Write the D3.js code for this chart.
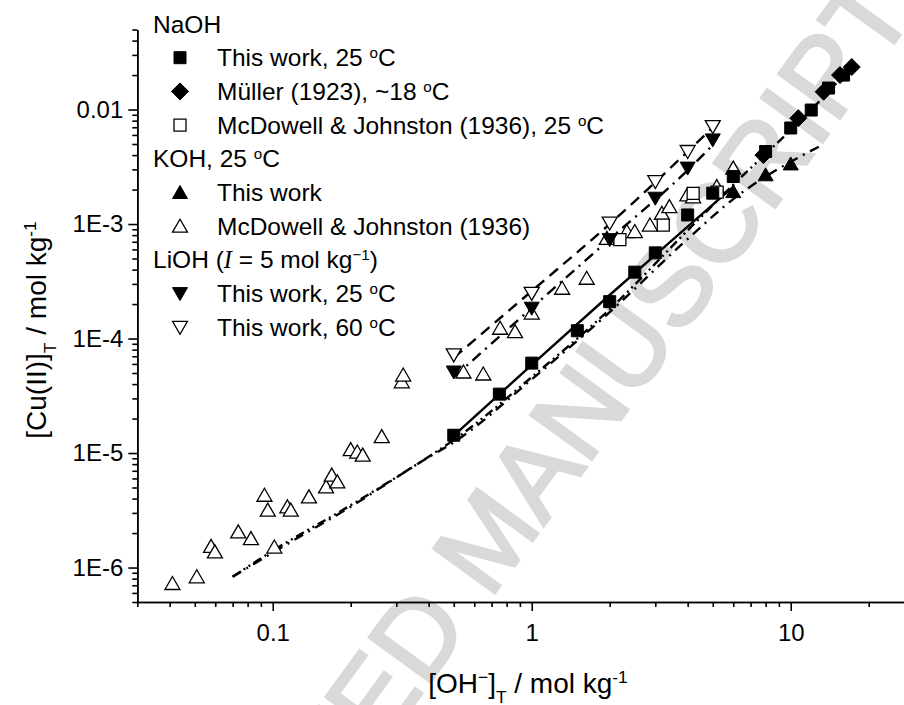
<!DOCTYPE html>
<html>
<head>
<meta charset="utf-8">
<script src="https://cdn.jsdelivr.net/npm/d3@7"></script>
<style>
  body { margin: 0; background: #fff; }
  svg { font-family: "Liberation Sans", Arial, sans-serif; }
</style>
</head>
<body>
<div id="chart"></div>
<script>

  // ---------------------------//
  //            DATA            //
  // ---------------------------//

  // NaOH, this work, 25 C (filled squares)
  var naohWorkX = [0.5, 0.75, 1, 1.5, 2, 2.5, 3, 4, 5, 6, 8, 10, 12, 14, 16];
  var naohWorkY = [1.43e-5, 3.27e-5, 6.1e-5, 1.17e-4, 2.1e-4, 3.8e-4, 5.6e-4, 1.2e-3, 1.86e-3, 2.6e-3, 4.3e-3, 6.9e-3, 9.9e-3, 1.54e-2, 2.0e-2];

  // NaOH, Muller (1923) (filled diamonds)
  var mullerX = [7.84, 10.7, 13.4, 15.5, 17.2];
  var mullerY = [4.0e-3, 8.4e-3, 1.43e-2, 2.0e-2, 2.35e-2];

  // NaOH, McDowell & Johnston (1936) (open squares)
  var naohMcdX = [2.19, 3.22, 4.2, 5.2];
  var naohMcdY = [7.3e-4, 9.8e-4, 1.85e-3, 1.9e-3];

  // KOH, this work (filled triangles)
  var kohWorkX = [6, 8, 10];
  var kohWorkY = [1.92e-3, 2.69e-3, 3.35e-3];

  // KOH, McDowell & Johnston (1936) (open triangles)
  var kohMcdX = [0.041, 0.0509, 0.0578, 0.0598, 0.0736, 0.0824, 0.0929, 0.0957, 0.1014, 0.1139, 0.1174, 0.138, 0.1607, 0.169, 0.1776, 0.2, 0.212, 0.2226, 0.2636, 0.315, 0.319, 0.545, 0.65, 0.755, 0.862, 1.0, 1.31, 1.63, 1.95, 2.33, 2.5, 2.86, 3.18, 3.4, 3.99, 4.2, 5.18, 6.0];
  var kohMcdY = [7.25e-7, 8.3e-7, 1.53e-6, 1.37e-6, 2.05e-6, 1.79e-6, 4.28e-6, 3.17e-6, 1.51e-6, 3.39e-6, 3.17e-6, 4.14e-6, 5.07e-6, 6.41e-6, 5.6e-6, 1.07e-5, 1.02e-5, 9.6e-6, 1.39e-5, 4.19e-5, 4.8e-5, 5.1e-5, 4.9e-5, 1.23e-4, 1.15e-4, 1.67e-4, 2.75e-4, 3.36e-4, 7.5e-4, 8.6e-4, 8.6e-4, 9.8e-4, 1.24e-3, 1.42e-3, 1.8e-3, 1.73e-3, 2.12e-3, 3.08e-3];

  // LiOH, this work, 25 C (filled down triangles)
  var li25X = [0.5, 1, 2, 3, 4, 5];
  var li25Y = [5.1e-5, 1.84e-4, 7.3e-4, 1.68e-3, 3.08e-3, 5.43e-3];

  // LiOH, this work, 60 C (open down triangles)
  var li60X = [0.5, 1, 2, 3, 4, 5];
  var li60Y = [7.2e-5, 2.48e-4, 1.02e-3, 2.35e-3, 4.3e-3, 7.1e-3];

  // model curves
  var fitNaohX = [0.5, 1, 2, 4, 5.9];
  var fitNaohY = [1.42e-5, 5.9e-5, 2.4e-4, 9.5e-4, 2.05e-3];

  var fitLi60X = [0.5, 1, 2, 5.2];
  var fitLi60Y = [6.8e-5, 2.6e-4, 1.0e-3, 7.6e-3];

  var fitLi25X = [0.5, 1, 2, 4, 5.0];
  var fitLi25Y = [4.6e-5, 1.85e-4, 7.4e-4, 2.95e-3, 4.9e-3];

  var modelNaohX = [0.07, 0.1, 0.2, 0.4, 0.5, 1, 2, 4, 6, 8, 10, 13, 17.5];
  var modelNaohY = [8.3e-7, 1.4e-6, 3.5e-6, 9.3e-6, 1.3e-5, 4.6e-5, 1.8e-4, 8.8e-4, 2.2e-3, 4.1e-3, 6.6e-3, 1.2e-2, 2.5e-2];

  var modelKohX = [0.07, 0.1, 0.2, 0.4, 0.5, 1, 2, 4, 6, 8, 10, 13];
  var modelKohY = [8.3e-7, 1.35e-6, 3.4e-6, 9.2e-6, 1.24e-5, 4.4e-5, 1.7e-4, 7.4e-4, 1.65e-3, 2.6e-3, 3.5e-3, 4.8e-3];

  // ticks
  var xMajor = [0.1, 1, 10];
  var xMajorLabels = ["0.1", "1", "10"];
  var xMinor = [0.03, 0.04, 0.05, 0.06, 0.07, 0.08, 0.09, 0.2, 0.3, 0.4, 0.5, 0.6, 0.7, 0.8, 0.9,
                2, 3, 4, 5, 6, 7, 8, 9, 20];
  var yMajor = [1e-6, 1e-5, 1e-4, 1e-3, 0.01];
  var yMajorLabels = ["1E-6", "1E-5", "1E-4", "1E-3", "0.01"];
  var yMinor = [5e-7, 6e-7, 7e-7, 8e-7, 9e-7,
                2e-6, 3e-6, 4e-6, 5e-6, 6e-6, 7e-6, 8e-6, 9e-6,
                2e-5, 3e-5, 4e-5, 5e-5, 6e-5, 7e-5, 8e-5, 9e-5,
                2e-4, 3e-4, 4e-4, 5e-4, 6e-4, 7e-4, 8e-4, 9e-4,
                2e-3, 3e-3, 4e-3, 5e-3, 6e-3, 7e-3, 8e-3, 9e-3,
                0.02, 0.03, 0.04, 0.05];

  function zip(xs, ys) {
    return xs.map(function(v, i) { return [v, ys[i]]; });
  }

  // ---------------------------//
  //         DIMENSIONS         //
  // ---------------------------//

  var width = 904;
  var height = 705;

  var svg = d3.select("#chart")
    .append("svg")
    .attr("width", width)
    .attr("height", height);

  var x = d3.scaleLog()
    .domain([0.03, 30])
    .range([137.3, 914.3]);

  var y = d3.scaleLog()
    .domain([5e-7, 0.05])
    .range([602, 29.5]);

  // ---------------------------//
  //          WATERMARK         //
  // ---------------------------//

  svg.append("text")
    .attr("transform", "translate(917,12) rotate(-54)")
    .attr("text-anchor", "end")
    .style("font-size", "110px")
    .attr("fill", "#d9d9d9")
    .attr("stroke", "#d9d9d9")
    .attr("stroke-width", 3)
    .text("ACCEPTED MANUSCRIPT");

  // ---------------------------//
  //            AXES            //
  // ---------------------------//

  svg.append("g")
    .attr("transform", "translate(0,602)")
    .call(d3.axisBottom(x).tickValues(xMinor).tickSize(5).tickSizeOuter(0).tickFormat(""));

  svg.append("g")
    .attr("transform", "translate(0,602)")
    .call(d3.axisBottom(x).tickValues(xMajor).tickSize(9).tickSizeOuter(0).tickPadding(13)
      .tickFormat(function(d, i) { return xMajorLabels[i]; }));

  svg.append("g")
    .attr("transform", "translate(137.3,0)")
    .call(d3.axisLeft(y).tickValues(yMinor).tickSize(5).tickSizeOuter(0).tickFormat(""));

  svg.append("g")
    .attr("transform", "translate(137.3,0)")
    .call(d3.axisLeft(y).tickValues(yMajor).tickSize(9).tickSizeOuter(0).tickPadding(5)
      .tickFormat(function(d, i) { return yMajorLabels[i]; }));

  svg.selectAll(".domain, .tick line")
    .attr("stroke", "#000")
    .attr("stroke-width", 1.6);

  svg.selectAll(".tick text")
    .attr("fill", "#000")
    .style("font-family", "'Liberation Sans', Arial, sans-serif")
    .style("font-size", "24px");

  // ---------------------------//
  //            LINES           //
  // ---------------------------//

  var line = d3.line()
    .x(function(d) { return x(d[0]); })
    .y(function(d) { return y(d[1]); })
    .curve(d3.curveMonotoneX);

  var curves = [
    { pts: zip(modelNaohX, modelNaohY), dash: "9,4,2,4,2,4" },
    { pts: zip(modelKohX, modelKohY), dash: "10,6,2,6" },
    { pts: zip(fitNaohX, fitNaohY), dash: null },
    { pts: zip(fitLi60X, fitLi60Y), dash: "11,7" },
    { pts: zip(fitLi25X, fitLi25Y), dash: "11,6,2,6" }
  ];

  curves.forEach(function(c) {
    svg.append("path")
      .datum(c.pts)
      .attr("fill", "none")
      .attr("stroke", "#000")
      .attr("stroke-width", 2.4)
      .attr("stroke-dasharray", c.dash)
      .attr("d", line);
  });

  // ---------------------------//
  //           MARKERS          //
  // ---------------------------//

  var shapes = {
    square: function(p) { p.moveTo(-6, -6); p.lineTo(6, -6); p.lineTo(6, 6); p.lineTo(-6, 6); p.closePath(); },
    diamond: function(p) { p.moveTo(0, -8.5); p.lineTo(8.5, 0); p.lineTo(0, 8.5); p.lineTo(-8.5, 0); p.closePath(); },
    up: function(p) { p.moveTo(0, -7); p.lineTo(7.5, 6); p.lineTo(-7.5, 6); p.closePath(); },
    down: function(p) { p.moveTo(0, 7); p.lineTo(7.5, -6); p.lineTo(-7.5, -6); p.closePath(); }
  };

  function symbolPath(name) {
    var p = d3.path();
    shapes[name](p);
    return p.toString();
  }

  var series = [
    { xs: kohMcdX, ys: kohMcdY, shape: "up", filled: false },
    { xs: naohMcdX, ys: naohMcdY, shape: "square", filled: false },
    { xs: li60X, ys: li60Y, shape: "down", filled: false },
    { xs: li25X, ys: li25Y, shape: "down", filled: true },
    { xs: kohWorkX, ys: kohWorkY, shape: "up", filled: true },
    { xs: mullerX, ys: mullerY, shape: "diamond", filled: true },
    { xs: naohWorkX, ys: naohWorkY, shape: "square", filled: true }
  ];

  series.forEach(function(s) {
    svg.append("g")
      .selectAll("path")
      .data(zip(s.xs, s.ys))
      .enter()
      .append("path")
      .attr("transform", function(d) { return "translate(" + x(d[0]) + "," + y(d[1]) + ")"; })
      .attr("d", symbolPath(s.shape))
      .attr("fill", s.filled ? "#000" : "#fff")
      .attr("stroke", "#000")
      .attr("stroke-width", s.filled ? 1 : 1.3);
  });

  // ---------------------------//
  //           LEGEND           //
  // ---------------------------//

  function richText(sel, parts) {
    parts.forEach(function(p) {
      var t = sel.append("tspan").text(p.t);
      if (p.sup) t.attr("baseline-shift", "super").style("font-size", "0.62em");
      if (p.sub) t.attr("baseline-shift", "sub").style("font-size", "0.62em");
      if (p.it) t.style("font-family", "'Liberation Serif', 'Times New Roman', serif").style("font-style", "italic");
    });
    return sel;
  }

  var deg = [{ t: " " }, { t: "o", sup: true }, { t: "C" }];

  var legendRows = [
    { head: true, parts: [{ t: "NaOH" }] },
    { shape: "square", filled: true, parts: [{ t: "This work, 25" }].concat(deg) },
    { shape: "diamond", filled: true, parts: [{ t: "M\u00fcller (1923), ~18" }].concat(deg) },
    { shape: "square", filled: false, parts: [{ t: "McDowell & Johnston (1936), 25" }].concat(deg) },
    { head: true, parts: [{ t: "KOH, 25" }].concat(deg) },
    { shape: "up", filled: true, parts: [{ t: "This work" }] },
    { shape: "up", filled: false, parts: [{ t: "McDowell & Johnston (1936)" }] },
    { head: true, parts: [{ t: "LiOH (" }, { t: "I", it: true }, { t: " = 5 mol kg" }, { t: "\u22121", sup: true }, { t: ")" }] },
    { shape: "down", filled: true, parts: [{ t: "This work, 25" }].concat(deg) },
    { shape: "down", filled: false, parts: [{ t: "This work, 60" }].concat(deg) }
  ];

  var legendTop = 24;
  var legendStep = 33.7;

  legendRows.forEach(function(r, i) {
    var cy = legendTop + i * legendStep;
    if (!r.head) {
      svg.append("path")
        .attr("transform", "translate(180," + cy + ")")
        .attr("d", symbolPath(r.shape))
        .attr("fill", r.filled ? "#000" : "#fff")
        .attr("stroke", "#000")
        .attr("stroke-width", r.filled ? 1 : 1.3);
    }
    var t = svg.append("text")
      .attr("x", r.head ? 153 : 217)
      .attr("y", cy + 8.5)
      .style("font-size", "24.5px")
      .attr("fill", "#000");
    richText(t, r.parts);
  });

  // ---------------------------//
  //         AXIS TITLES        //
  // ---------------------------//

  var xTitle = svg.append("text")
    .attr("x", 528)
    .attr("y", 693)
    .attr("text-anchor", "middle")
    .style("font-size", "28px");
  richText(xTitle, [{ t: "[OH" }, { t: "\u2212", sup: true }, { t: "]" }, { t: "T", sub: true }, { t: " / mol kg" }, { t: "-1", sup: true }]);

  var yTitle = svg.append("text")
    .attr("transform", "translate(46,330) rotate(-90)")
    .attr("text-anchor", "middle")
    .style("font-size", "28px");
  richText(yTitle, [{ t: "[Cu(II)]" }, { t: "T", sub: true }, { t: " / mol kg" }, { t: "-1", sup: true }]);

</script>
</body>
</html>
